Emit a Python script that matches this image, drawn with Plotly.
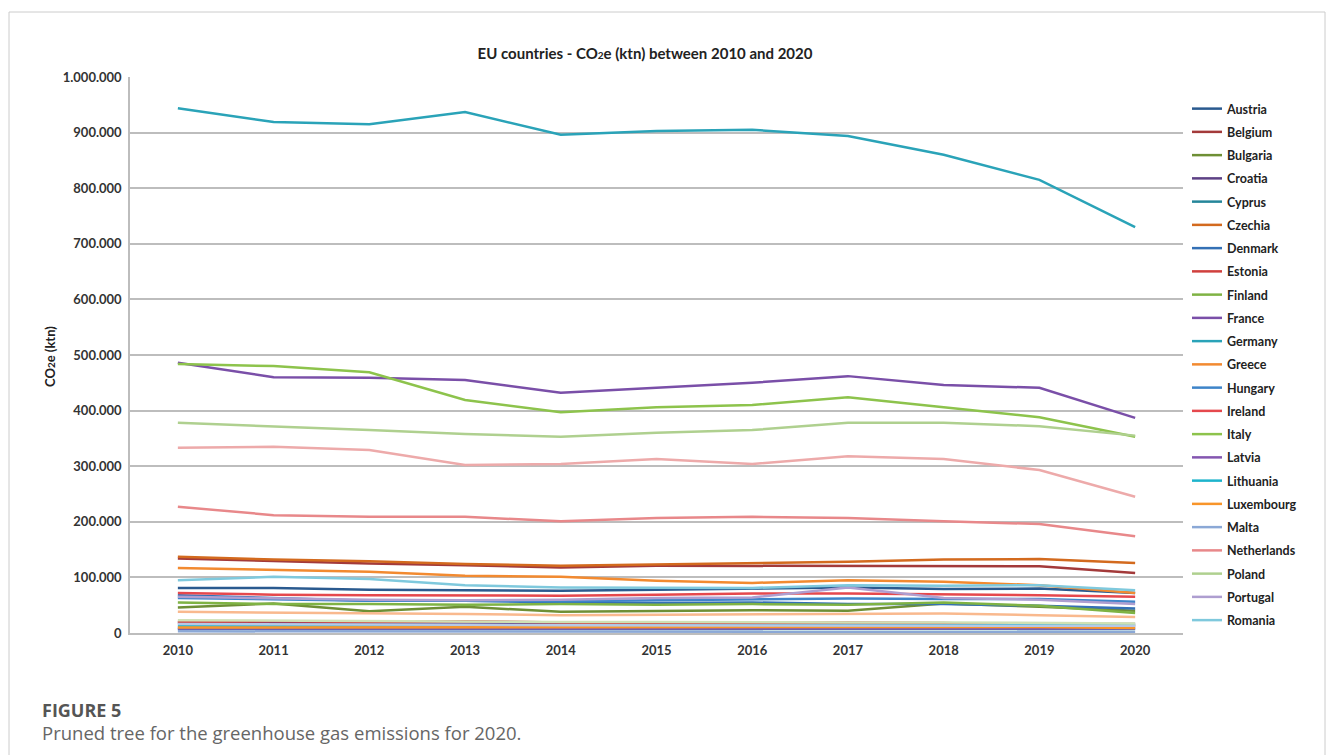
import plotly.graph_objects as go

years = [2010, 2011, 2012, 2013, 2014, 2015, 2016, 2017, 2018, 2019, 2020]

austria     = [81000, 81000, 78000, 77000, 76000, 78000, 80000, 82000, 79000, 80000, 72000]
belgium     = [134000, 129000, 125000, 122000, 118000, 121000, 121000, 121000, 121000, 120000, 108000]
bulgaria    = [46000, 53000, 39000, 47000, 38000, 39000, 41000, 40000, 53000, 47000, 40000]
croatia     = [19000, 18000, 17000, 17000, 16000, 17000, 17000, 17000, 16000, 17000, 16000]
cyprus      = [7000, 7000, 7000, 6000, 6000, 6000, 7000, 7000, 7000, 7000, 7000]
czechia     = [137000, 132000, 129000, 124000, 121000, 123000, 125000, 128000, 132000, 133000, 126000]
denmark     = [68000, 63000, 58000, 58000, 55000, 54000, 55000, 52000, 52000, 49000, 44000]
estonia     = [20000, 21000, 20000, 21000, 19000, 17000, 18000, 19000, 18000, 14000, 12000]
finland     = [55000, 52000, 52000, 51000, 52000, 51000, 52000, 51000, 55000, 49000, 36000]
france      = [486000, 460000, 459000, 455000, 432000, 441000, 450000, 462000, 446000, 441000, 387000]
germany     = [944000, 919000, 915000, 937000, 896000, 903000, 905000, 894000, 860000, 815000, 730000]
greece      = [117000, 113000, 110000, 103000, 101000, 94000, 90000, 95000, 92000, 86000, 72000]
hungary     = [63000, 61000, 58000, 58000, 57000, 59000, 60000, 62000, 61000, 61000, 56000]
ireland     = [72000, 69000, 68000, 68000, 67000, 69000, 71000, 71000, 70000, 68000, 65000]
italy       = [484000, 480000, 469000, 419000, 397000, 406000, 410000, 424000, 406000, 388000, 353000]
latvia      = [8000, 8000, 8000, 8000, 8000, 8000, 8000, 8000, 8000, 8000, 8000]
lithuania   = [13000, 13000, 13000, 13000, 13000, 13000, 14000, 14000, 14000, 14000, 14000]
luxembourg  = [10000, 10000, 10000, 10000, 10000, 10000, 10000, 10000, 10000, 11000, 9000]
malta       = [3000, 3000, 3000, 3000, 2000, 2000, 2000, 2000, 2000, 2000, 2000]
netherlands = [227000, 212000, 209000, 209000, 201000, 207000, 209000, 207000, 201000, 196000, 174000]
poland      = [378000, 372000, 365000, 358000, 353000, 360000, 365000, 378000, 378000, 372000, 355000]
portugal    = [65000, 62000, 60000, 59000, 60000, 63000, 64000, 82000, 63000, 60000, 52000]
romania     = [95000, 101000, 97000, 86000, 82000, 81000, 81000, 86000, 85000, 86000, 77000]
slovakia    = [38000, 37000, 35000, 34000, 32000, 33000, 33000, 34000, 35000, 32000, 29000]
slovenia    = [16000, 16000, 15000, 15000, 14000, 14000, 14000, 14000, 14000, 14000, 13000]
spain       = [333000, 335000, 329000, 302000, 304000, 313000, 304000, 318000, 313000, 293000, 245000]
sweden      = [23000, 22000, 21000, 20000, 20000, 20000, 19000, 19000, 19000, 18000, 17000]

countries = ["Austria", "Belgium", "Bulgaria", "Croatia", "Cyprus", "Czechia", "Denmark",
             "Estonia", "Finland", "France", "Germany", "Greece", "Hungary", "Ireland",
             "Italy", "Latvia", "Lithuania", "Luxembourg", "Malta", "Netherlands",
             "Poland", "Portugal", "Romania", "Slovakia", "Slovenia", "Spain", "Sweden"]
series = [austria, belgium, bulgaria, croatia, cyprus, czechia, denmark, estonia, finland,
          france, germany, greece, hungary, ireland, italy, latvia, lithuania, luxembourg,
          malta, netherlands, poland, portugal, romania, slovakia, slovenia, spain, sweden]
colors = ["#2A5A8F", "#A33A3A", "#6E8F35", "#5D4185", "#25869A", "#D36A1E", "#3470B5",
          "#D0403E", "#7FB344", "#7A4FA8", "#2AA3B8", "#F28A30", "#3E84C9", "#E5484D",
          "#8DC34C", "#8456B0", "#1DB4CC", "#F8952A", "#8BA8D6", "#E8888A", "#AFD08F",
          "#AE9ED0", "#7FC9DD", "#F9B98E", "#B5C8E6", "#EDAAAA", "#CFE0B5"]
legend_count = 23

W, H = 1333, 755
L, R, T, B = 130, 1183, 77, 633
PW, PH = R - L, B - T

def px_x(x):
    return (x - L) / PW

def px_y(y):
    return (B - y) / PH

fig = go.Figure()
for i, (name, vals, col) in enumerate(zip(countries, series, colors)):
    fig.add_trace(go.Scatter(
        x=years, y=vals, mode="lines", name=name,
        line=dict(color=col, width=2.5),
        showlegend=i < legend_count,
        legendgroup=name,
    ))

font_family = "Lato, Carlito, Calibri, sans-serif"

fig.update_layout(
    width=W, height=H,
    margin=dict(l=L, r=W - R, t=T, b=H - B, pad=0),
    paper_bgcolor="white", plot_bgcolor="white",
    separators=",.",
    font=dict(family=font_family, size=13, color="#333333"),
    title=dict(
        text="<b>EU countries - CO<span style='font-size:10px'>2</span>e (ktn) between 2010 and 2020</b>",
        x=645 / W, xanchor="center", xref="container",
        y=1 - 54 / H, yanchor="middle", yref="container",
        font=dict(family=font_family, size=15, color="#222222"),
    ),
    xaxis=dict(
        range=[2009.5, 2020.5], tickmode="array", tickvals=years,
        ticktext=[f"<b>{y}</b>" for y in years],
        showgrid=False, zeroline=False,
        showline=True, linecolor="#BDBDBD", linewidth=1.5,
        ticks="", ticklabelstandoff=5,
        tickfont=dict(size=13, color="#333333"),
    ),
    yaxis=dict(
        range=[0, 1000000], tickmode="linear", tick0=0, dtick=100000,
        tickformat=",d",
        showgrid=True, gridcolor="#BDBDBD", gridwidth=1.5,
        zeroline=False,
        showline=True, linecolor="#BDBDBD", linewidth=1.5,
        ticks="", ticklabelstandoff=4,
        tickfont=dict(size=13, color="#333333", weight="bold"),
    ),
    legend=dict(
        x=px_x(1187), xanchor="left",
        y=px_y(94), yanchor="top",
        bgcolor="rgba(0,0,0,0)", borderwidth=0,
        font=dict(family=font_family, size=12.5, color="#222222", weight="bold"),
        tracegroupgap=4.0, itemwidth=30,
    ),
    hovermode=False,
)

# outer frame
fig.add_shape(type="rect", xref="paper", yref="paper",
              x0=px_x(9), x1=px_x(1325), y0=px_y(800), y1=px_y(12),
              line=dict(color="#CCCCCC", width=1), fillcolor="rgba(0,0,0,0)", layer="below")

# y-axis title
fig.add_annotation(xref="paper", yref="paper", x=px_x(50), y=px_y(357),
                   text="<b>CO<span style='font-size:10px'>2</span>e (ktn)</b>",
                   textangle=-90, showarrow=False, xanchor="center", yanchor="middle",
                   font=dict(family=font_family, size=13, color="#222222"))

# caption
fig.add_annotation(xref="paper", yref="paper", x=px_x(40), y=px_y(710),
                   text="<b>FIGURE 5</b>", showarrow=False, xanchor="left", yanchor="middle",
                   font=dict(family="Open Sans, sans-serif", size=18, color="#555555"))
fig.add_annotation(xref="paper", yref="paper", x=px_x(40), y=px_y(732),
                   text="Pruned tree for the greenhouse gas emissions for 2020.",
                   showarrow=False, xanchor="left", yanchor="middle",
                   font=dict(family="Open Sans, sans-serif", size=18.5, color="#666666"))

fig.write_html("out.html")
